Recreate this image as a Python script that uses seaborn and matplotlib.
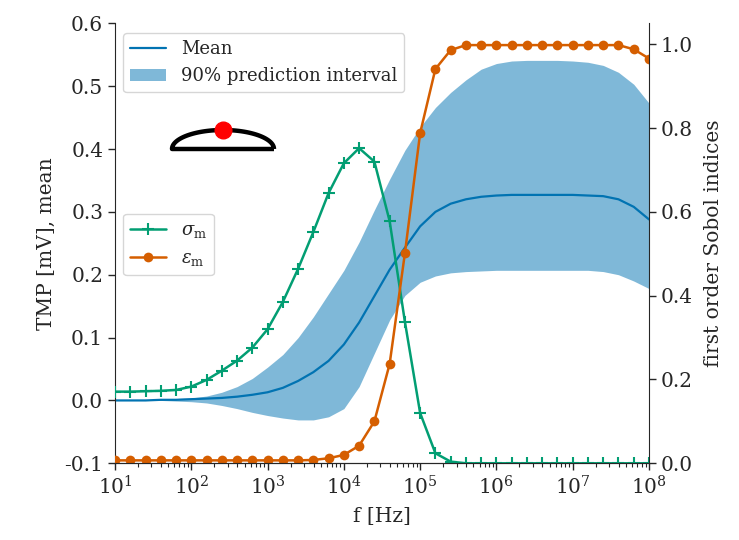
import numpy as np
import matplotlib
matplotlib.use("Agg")
from matplotlib import pyplot as plt
import seaborn as sns

# frequency grid (log10 of f in Hz)
freq_exp = [1.0, 1.2, 1.4, 1.6, 1.8, 2.0, 2.2, 2.4, 2.6, 2.8,
            3.0, 3.2, 3.4, 3.6, 3.8, 4.0, 4.2, 4.4, 4.6, 4.8,
            5.0, 5.2, 5.4, 5.6, 5.8, 6.0, 6.2, 6.4, 6.6, 6.8,
            7.0, 7.2, 7.4, 7.6, 7.8, 8.0]

# TMP mean and 90% prediction interval [mV]
tmp_mean = [0.000, 0.000, 0.000, 0.001, 0.001, 0.002, 0.003, 0.004, 0.006, 0.009,
            0.013, 0.020, 0.031, 0.045, 0.063, 0.089, 0.124, 0.166, 0.208, 0.243,
            0.277, 0.300, 0.313, 0.320, 0.324, 0.326, 0.327, 0.327, 0.327, 0.327,
            0.327, 0.326, 0.325, 0.320, 0.308, 0.288]
tmp_upper = [0.000, 0.000, 0.001, 0.002, 0.003, 0.004, 0.007, 0.013, 0.022, 0.035,
             0.053, 0.073, 0.100, 0.133, 0.170, 0.207, 0.252, 0.303, 0.352, 0.398,
             0.435, 0.466, 0.490, 0.510, 0.527, 0.536, 0.540, 0.541, 0.541, 0.541,
             0.540, 0.538, 0.533, 0.522, 0.503, 0.473]
tmp_lower = [0.000, 0.000, 0.000, 0.000, -0.001, -0.002, -0.004, -0.008, -0.013, -0.019,
             -0.024, -0.028, -0.031, -0.031, -0.026, -0.013, 0.022, 0.075, 0.128, 0.167,
             0.188, 0.198, 0.203, 0.205, 0.206, 0.207, 0.207, 0.207, 0.207, 0.207,
             0.207, 0.207, 0.205, 0.200, 0.190, 0.178]

# first order Sobol indices
sobol_sigma = [0.171, 0.171, 0.172, 0.173, 0.175, 0.183, 0.199, 0.221, 0.245, 0.276,
               0.320, 0.385, 0.464, 0.552, 0.645, 0.716, 0.752, 0.720, 0.578, 0.338,
               0.120, 0.024, 0.004, 0.000, 0.000, 0.000, 0.000, 0.000, 0.000, 0.000,
               0.000, 0.000, 0.000, 0.000, 0.000, 0.000]
sobol_eps = [0.007, 0.007, 0.007, 0.007, 0.007, 0.007, 0.007, 0.007, 0.007, 0.007,
             0.007, 0.007, 0.007, 0.008, 0.012, 0.020, 0.042, 0.100, 0.237, 0.501,
             0.788, 0.941, 0.986, 0.998, 0.998, 0.998, 0.998, 0.998, 0.998, 0.998,
             0.998, 0.998, 0.998, 0.998, 0.988, 0.966]

sns.set_style("ticks")
plt.rcParams["font.family"] = ["DejaVu Serif"]
plt.rcParams["mathtext.fontset"] = "dejavuserif"
plt.rcParams["axes.unicode_minus"] = False
plt.rcParams["xtick.direction"] = "out"
plt.rcParams["ytick.direction"] = "out"

pal = sns.color_palette("colorblind")
freq = 10 ** np.array(freq_exp)

fig, ax = plt.subplots(figsize=(7.39, 5.4), dpi=100)
fig.subplots_adjust(left=115 / 739, right=649 / 739,
                    bottom=1 - 463.3 / 540, top=1 - 23.3 / 540)

sns.lineplot(x=freq, y=tmp_mean, ax=ax, color=pal[0], lw=1.6, label="Mean")
ax.fill_between(freq, tmp_lower, tmp_upper, color=pal[0], alpha=0.5,
                lw=0, label="90% prediction interval")
ax.set_xscale("log")
ax.set_xlim(1e1, 1e8)
ax.set_ylim(-0.1, 0.6)
ax.set_xlabel("f [Hz]", fontsize=14.5, labelpad=6)
ax.set_ylabel("TMP [mV], mean", fontsize=14.5, labelpad=6)
ax.tick_params(labelsize=14.5, which="major", length=5, width=1)
ax.tick_params(which="minor", length=3, width=0.8)
ax.spines["top"].set_visible(False)
ax.spines["right"].set_visible(False)
ax.get_legend().remove()

ax2 = ax.twinx()
sns.lineplot(x=freq, y=sobol_sigma, ax=ax2, color=pal[2], lw=1.8,
             marker="+", markersize=8, markeredgewidth=1.5,
             markeredgecolor=pal[2], label=r"$\sigma_\mathrm{m}$")
sns.lineplot(x=freq, y=sobol_eps, ax=ax2, color=pal[3], lw=1.8,
             marker="o", markersize=7, markeredgewidth=0,
             markeredgecolor=pal[3], label=r"$\varepsilon_\mathrm{m}$")
ax2.set_ylim(0, 1.05)
ax2.set_ylabel("first order Sobol indices", fontsize=14.5, labelpad=8)
ax2.tick_params(labelsize=14.5, length=5, width=1)
ax2.spines["top"].set_visible(False)
ax2.spines["left"].set_visible(False)

h1, l1 = ax.get_legend_handles_labels()
h2, l2 = ax2.get_legend_handles_labels()
leg1 = ax2.legend(h1, l1, loc="upper left", bbox_to_anchor=(0.015, 0.978),
                  borderaxespad=0, fontsize=13)
ax2.add_artist(leg1)
ax2.legend(h2, l2, loc="upper left", bbox_to_anchor=(0.015, 0.567),
           borderaxespad=0, fontsize=13)

# small cell sketch with the electrode position
ins = fig.add_axes([158 / 739, 1 - 160 / 540, 130 / 739, 45 / 540])
theta = np.linspace(0, np.pi, 100)
dome_x = np.concatenate([np.cos(theta), [-1, 1]])
dome_y = np.concatenate([np.sin(theta), [0, 0]])
ins.plot(dome_x, dome_y, color="black", lw=3.2, solid_capstyle="butt")
ins.plot([0.0], [1.0], "o", color="red", markersize=12, zorder=3)
ins.set_xlim(-1.275, 1.275)
ins.set_ylim(-0.58, 1.79)
ins.axis("off")

fig.savefig("out.png", dpi=100)
